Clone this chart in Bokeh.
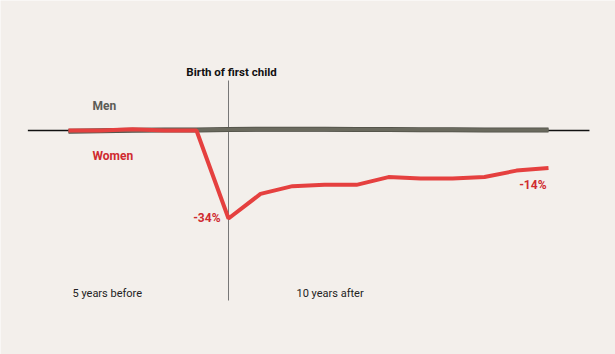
from bokeh.plotting import figure
from bokeh.models import ColumnDataSource, Label
from bokeh.embed import file_html
from bokeh.resources import INLINE

years = [-5, -4, -3, -2, -1, 0, 1, 2, 3, 4, 5, 6, 7, 8, 9, 10]
women = [0, 0, 0.5, 0, 0, -34, -24.5, -21.5, -21, -21, -18, -18.5, -18.5, -18, -15.5, -14.5]
men = [-0.3, -0.1, 0.1, 0.2, 0.2, 0.4, 0.5, 0.5, 0.5, 0.4, 0.4, 0.3, 0.3, 0.2, 0.2, 0.2]

W, H = 615, 354
X0_PX, PX_YR = 228, 32.0
Y0_PX, PX_PCT = 130, 2.588

def xd(px):
    return (px - X0_PX) / PX_YR

def yd(py):
    return (Y0_PX - py) / PX_PCT

BG = "#f3efeb"
RED = "#e5403f"
RED_TXT = "#cf2a2f"
GREY = "#6a6a5e"
GREY_TXT = "#5c5c55"
FONT = "Roboto"

p = figure(width=W, height=H, output_backend="svg", toolbar_location=None,
           x_range=(xd(0), xd(W)), y_range=(yd(H), yd(0)),
           min_border=0, background_fill_color=BG, border_fill_color=BG,
           outline_line_color=None)
p.axis.visible = False
p.grid.visible = False

p.segment(x0=[years[0] - 1.27], y0=[0], x1=[years[-1] + 1.28], y1=[0],
          line_color="#111111", line_width=1.5)
p.segment(x0=[0], y0=[yd(80)], x1=[0], y1=[yd(300)],
          line_color="#777777", line_width=1)

src = ColumnDataSource(dict(x=years, w=women, m=men))
p.line("x", "m", source=src, line_color="#4f4f46", line_width=5)
p.line("x", "m", source=src, line_color=GREY, line_width=3.5)
p.line("x", "w", source=src, line_color=RED, line_width=4)

def lab(text, x, y, color, size, style="normal", align="left", baseline="middle", xo=0, yo=0):
    p.add_layout(Label(x=x, y=y, text=text, text_color=color, text_font=FONT,
                       text_font_size=f"{size}px", text_font_style=style,
                       text_align=align, text_baseline=baseline,
                       x_offset=xo, y_offset=yo))

lab("Birth of first child", xd(231), yd(71), "#111111", 11.5, "bold", "center")
lab("Men", xd(92), yd(105), GREY_TXT, 12, "bold")
lab("Women", xd(92), yd(155), RED_TXT, 12, "bold")
lab("-34%", years[5], women[5], RED_TXT, 12, "bold", "right", "middle", -8, 0)
lab("-14%", years[-1], women[-1], RED_TXT, 12, "bold", "right", "middle", -2, -17)
lab("5 years before", xd(72), yd(293), "#222222", 11, "normal")
lab("10 years after", xd(296), yd(293), "#222222", 11, "normal")

open("out.html", "w").write(file_html(p, INLINE))
